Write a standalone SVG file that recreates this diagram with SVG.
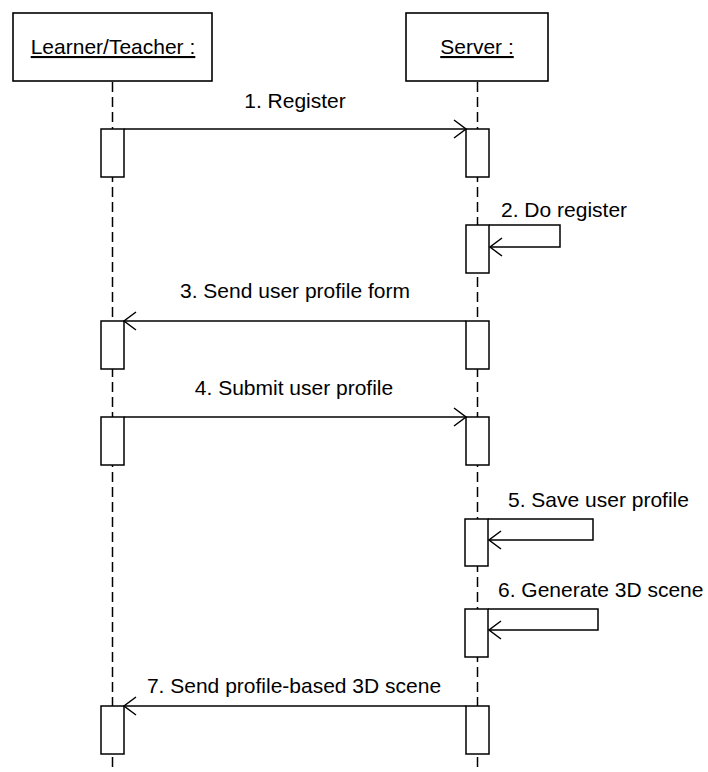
<svg xmlns="http://www.w3.org/2000/svg" width="708" height="772" viewBox="0 0 708 772">
<style>
.box{fill:#fff;stroke:#000;stroke-width:1.6}
.act{fill:#fff;stroke:#000;stroke-width:1.5}
.life{stroke:#000;stroke-width:1.5;stroke-dasharray:10 5;fill:none}
.msg{stroke:#000;stroke-width:1.5;fill:none}
text{font-family:"Liberation Sans",Arial,sans-serif;font-size:21px;fill:#000}
.name{text-decoration:underline}
</style>
<defs>
<marker id="arr" markerUnits="userSpaceOnUse" markerWidth="16" markerHeight="22" viewBox="-14 -11 16 22" refX="0" refY="0" orient="auto">
<polyline points="-12,-9 0,0 -12,9" fill="none" stroke="#000" stroke-width="1.5"/>
</marker>
</defs>
<rect width="708" height="772" fill="#fff"/>
<g id="lifelines">
<line class="life" x1="112.5" y1="82" x2="112.5" y2="772"/>
<line class="life" x1="477.5" y1="82" x2="477.5" y2="772"/>
</g>
<g id="learner">
<rect class="box" x="13" y="13" width="199" height="68"/>
<text class="name" x="113" y="54" text-anchor="middle">Learner/Teacher :</text>
</g>
<g id="server">
<rect class="box" x="406" y="13" width="142" height="68"/>
<text class="name" x="477" y="54" text-anchor="middle">Server :</text>
</g>
<g id="activations">
<rect class="act" x="101" y="129" width="23" height="48"/>
<rect class="act" x="466" y="129" width="23" height="48"/>
<rect class="act" x="466" y="225" width="23" height="48"/>
<rect class="act" x="101" y="321" width="23" height="48"/>
<rect class="act" x="466" y="321" width="23" height="48"/>
<rect class="act" x="101" y="417" width="23" height="48"/>
<rect class="act" x="466" y="417" width="23" height="48"/>
<rect class="act" x="465" y="519" width="23" height="47"/>
<rect class="act" x="465" y="609" width="23" height="48"/>
<rect class="act" x="101" y="706" width="23" height="48"/>
<rect class="act" x="466" y="706" width="23" height="48"/>
</g>
<g id="connectors">
<line class="msg" x1="124" y1="129" x2="466" y2="129" marker-end="url(#arr)"/>
<polyline class="msg" points="489,225 560,225 560,247 490,247" marker-end="url(#arr)"/>
<line class="msg" x1="466" y1="321" x2="124" y2="321" marker-end="url(#arr)"/>
<line class="msg" x1="124" y1="417" x2="466" y2="417" marker-end="url(#arr)"/>
<polyline class="msg" points="488,519 593,519 593,540 489,540" marker-end="url(#arr)"/>
<polyline class="msg" points="488,609 598,609 598,630 489,630" marker-end="url(#arr)"/>
<line class="msg" x1="466" y1="706" x2="124" y2="706" marker-end="url(#arr)"/>
</g>
<g id="labels">
<text x="295" y="108" text-anchor="middle">1. Register</text>
<text x="501" y="217">2. Do register</text>
<text x="295" y="298" text-anchor="middle">3. Send user profile form</text>
<text x="294" y="395" text-anchor="middle">4. Submit user profile</text>
<text x="508" y="507">5. Save user profile</text>
<text x="498" y="597">6. Generate 3D scene</text>
<text x="294" y="693" text-anchor="middle">7. Send profile-based 3D scene</text>
</g>
</svg>
